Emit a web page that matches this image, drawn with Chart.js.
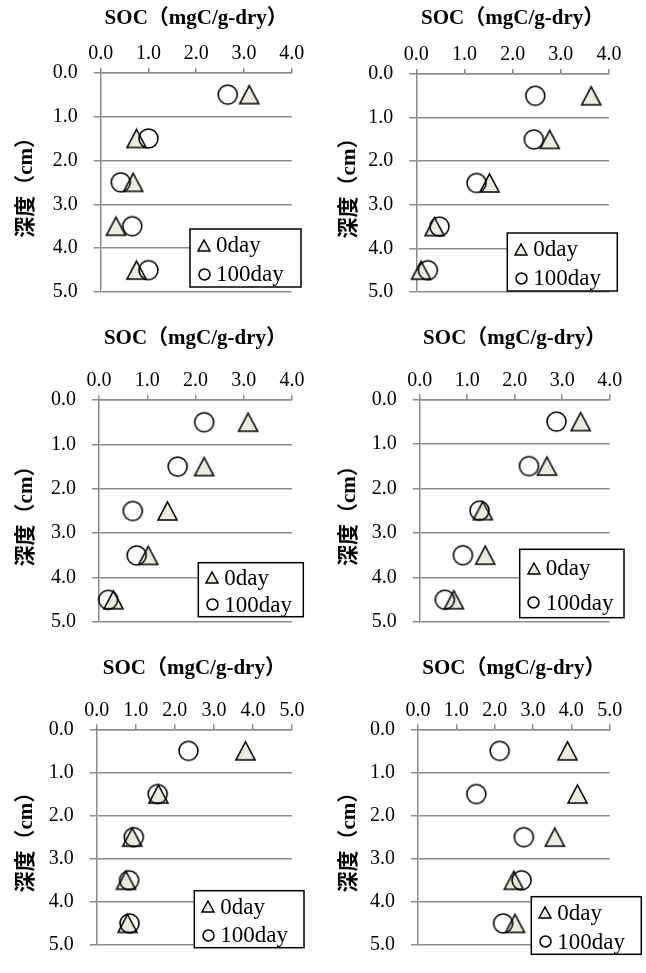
<!DOCTYPE html>
<html lang="ja">
<head>
<meta charset="utf-8">
<title>SOC depth profiles</title>
<script src="https://cdn.jsdelivr.net/npm/chart.js@4/dist/chart.umd.min.js"></script>
<style>
  html, body { margin: 0; padding: 0; background: #fff; }
  #page { position: relative; width: 646px; height: 973px; overflow: hidden; }
  .panel { position: absolute; }
</style>
</head>
<body>
<div id="page"></div>
<script>
// depth midpoints (cm)
const depths = [0.5, 1.5, 2.5, 3.5, 4.5];
const depthTicks = [0, 1, 2, 3, 4, 5];
const seriesNames = ['0day', '100day'];

// SOC (mgC/g-dry), panels left->right, top->bottom
const soc0day1 = [3.11, 0.75, 0.68, 0.32, 0.75];
const soc100day1 = [2.66, 1.00, 0.42, 0.66, 1.00];
const soc0day2 = [3.63, 2.77, 1.52, 0.38, 0.10];
const soc100day2 = [2.47, 2.44, 1.25, 0.48, 0.24];
const soc0day3 = [3.09, 2.18, 1.42, 1.02, 0.30];
const soc100day3 = [2.18, 1.63, 0.70, 0.78, 0.19];
const soc0day4 = [3.39, 2.68, 1.33, 1.38, 0.72];
const soc100day4 = [2.88, 2.30, 1.26, 0.91, 0.53];
const soc0day5 = [3.81, 1.58, 0.91, 0.75, 0.79];
const soc100day5 = [2.35, 1.56, 0.95, 0.83, 0.84];
const soc0day6 = [3.90, 4.16, 3.57, 2.50, 2.53];
const soc100day6 = [2.13, 1.52, 2.76, 2.70, 2.22];
const socMax = [4, 4, 4, 4, 5, 5];

const xTitle = 'SOC（mgC/g-dry）';
const yTitle = '深度（cm）';

// where each panel sits and where its plot area / legend box go (canvas px)
const panels = [
  { left: 0,   top: 0,   w: 323, h: 320, area: [100.7, 72.7, 291.7, 304],   legend: [190, 229, 111, 58] },
  { left: 323, top: 0,   w: 323, h: 320, area: [93.3, 74, 286, 305],        legend: [184.3, 233, 110, 58] },
  { left: 0,   top: 320, w: 323, h: 330, area: [99, 80, 292, 313.3],        legend: [198.3, 242.7, 105, 54] },
  { left: 323, top: 320, w: 323, h: 330, area: [96.7, 79.3, 286.7, 312.7],  legend: [196.7, 229.3, 104.3, 68.4] },
  { left: 0,   top: 650, w: 323, h: 323, area: [96.7, 79.3, 292, 313.3],    legend: [194.3, 240.7, 109.7, 57] },
  { left: 323, top: 650, w: 323, h: 323, area: [95, 79.3, 286.7, 312.7],    legend: [208.3, 246.7, 110, 57.6] }
];
const series0 = [soc0day1, soc0day2, soc0day3, soc0day4, soc0day5, soc0day6];
const series100 = [soc100day1, soc100day2, soc100day3, soc100day4, soc100day5, soc100day6];

const gridColor = '#8c8c8c';
const serif = "'Liberation Serif', 'Times New Roman', serif";
const titleFamily = "'Liberation Serif', 'Noto Sans CJK JP', serif";

// marker sprites
function makeMarker(kind, w, h, lw) {
  const c = document.createElement('canvas');
  c.width = Math.ceil(w + 4);
  c.height = Math.ceil(h + 4);
  const g = c.getContext('2d');
  const cx = c.width / 2, cy = c.height / 2;
  g.lineWidth = lw;
  g.strokeStyle = '#000';
  g.beginPath();
  if (kind === 'tri') {
    g.moveTo(cx, cy - h / 2);
    g.lineTo(cx + w / 2, cy + h / 2);
    g.lineTo(cx - w / 2, cy + h / 2);
    g.closePath();
    g.fillStyle = '#eeece1';
    g.fill();
  } else {
    g.arc(cx, cy, w / 2, 0, Math.PI * 2);
  }
  g.stroke();
  return c;
}
const triBig = makeMarker('tri', 19, 18, 1.6);
const cirBig = makeMarker('cir', 19, 19, 1.6);
const legendIcons = [makeMarker('tri', 12, 11, 1.5), makeMarker('cir', 11, 11, 1.5)];

// framed legend inside the plot, drawn on top like the original
const boxLegend = {
  id: 'boxLegend',
  afterDraw(chart, args, opts) {
    const [x, y, w, h] = opts.box;
    const ctx = chart.ctx;
    ctx.save();
    ctx.fillStyle = '#fff';
    ctx.fillRect(x, y, w, h);
    ctx.lineWidth = 1.5;
    ctx.strokeStyle = '#000';
    ctx.strokeRect(x, y, w, h);
    ctx.font = '23px ' + serif;
    ctx.fillStyle = '#000';
    ctx.textBaseline = 'middle';
    chart.data.datasets.forEach((ds, i) => {
      const cy = y + h * (i === 0 ? 0.28 : 0.78);
      const img = legendIcons[i];
      ctx.drawImage(img, Math.round(x + 14 - img.width / 2), Math.round(cy - img.height / 2));
      ctx.fillText(ds.label, x + 26, cy + 1);
    });
    ctx.restore();
  }
};

const page = document.getElementById('page');

panels.forEach((p, i) => {
  const div = document.createElement('div');
  div.className = 'panel';
  div.style.left = p.left + 'px';
  div.style.top = p.top + 'px';
  div.style.width = p.w + 'px';
  div.style.height = p.h + 'px';
  const cv = document.createElement('canvas');
  cv.width = p.w;
  cv.height = p.h;
  div.appendChild(cv);
  page.appendChild(div);

  const pts = arr => arr.map((v, k) => ({ x: v, y: depths[k] }));

  new Chart(cv, {
    type: 'scatter',
    data: {
      datasets: [
        { label: seriesNames[0], data: pts(series0[i]), pointStyle: triBig, pointRadius: 10, order: 1, clip: false },
        { label: seriesNames[1], data: pts(series100[i]), pointStyle: cirBig, pointRadius: 10, order: 0, clip: false }
      ]
    },
    options: {
      responsive: false,
      animation: false,
      events: [],
      layout: { padding: { left: 0, top: 0, right: p.w - p.area[2], bottom: p.h - p.area[3] } },
      plugins: {
        legend: { display: false },
        tooltip: { enabled: false },
        boxLegend: { box: p.legend }
      },
      scales: {
        x: {
          type: 'linear',
          position: 'top',
          min: 0,
          max: socMax[i],
          ticks: {
            stepSize: 1,
            callback: v => v.toFixed(1),
            font: { family: serif, size: 20 },
            color: '#000',
            padding: 2,
            maxRotation: 0
          },
          grid: { drawOnChartArea: false, tickLength: 5, color: gridColor, lineWidth: 1.5 },
          border: { color: gridColor, width: 1.5 },
          title: {
            display: true,
            text: xTitle,
            color: '#000',
            font: { family: titleFamily, size: 21, weight: 'bold' },
            padding: { top: 6, bottom: 0 }
          },
          afterFit: s => { s.height = p.area[1]; }
        },
        y: {
          type: 'linear',
          reverse: true,
          min: depthTicks[0],
          max: depthTicks[depthTicks.length - 1],
          afterBuildTicks: s => { s.ticks = depthTicks.map(v => ({ value: v })); },
          ticks: {
            callback: v => v.toFixed(1),
            font: { family: serif, size: 20 },
            color: '#000',
            padding: 16
          },
          grid: { tickLength: 7, color: gridColor, lineWidth: 1.5 },
          border: { color: gridColor, width: 1.5 },
          title: {
            display: true,
            text: yTitle,
            color: '#000',
            font: { family: titleFamily, size: 21, weight: 'bold' },
            padding: { top: 14, bottom: 0 }
          },
          afterFit: s => { s.width = p.area[0]; }
        }
      }
    },
    plugins: [boxLegend]
  });
});
</script>
</body>
</html>
